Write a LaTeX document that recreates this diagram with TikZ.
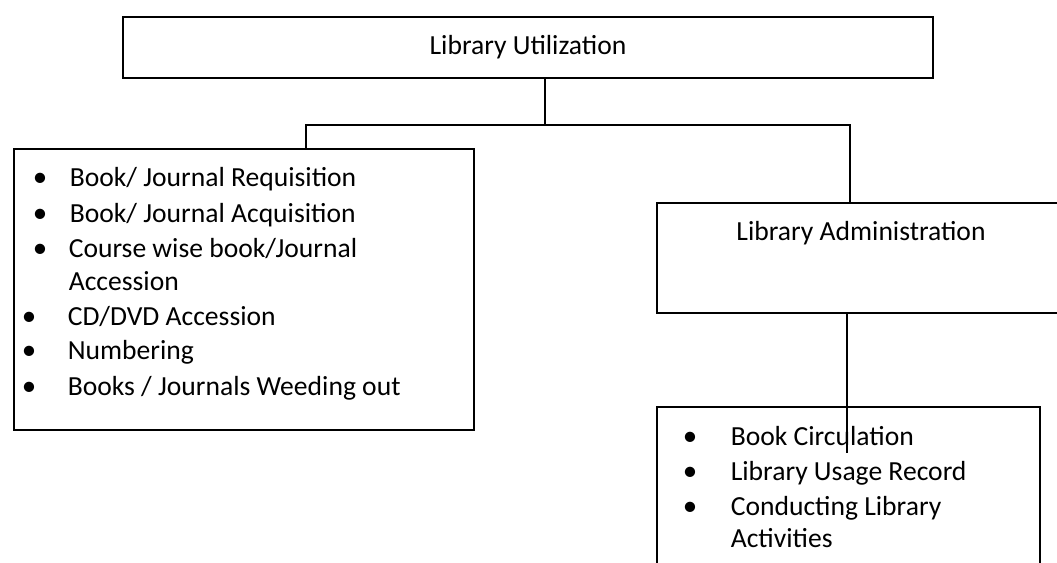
\documentclass[tikz,border=0pt]{standalone}
\usepackage{fontspec}
\setmainfont{Carlito}
\begin{document}
\begin{tikzpicture}[x=1pt,y=-1pt,
  line width=1.6pt,
  boxst/.style={draw=black, rectangle, inner sep=0pt, line width=1.6pt},
  txt/.style={anchor=base west, inner sep=0pt, font=\fontsize{27.6}{35}\selectfont},
  bul/.style={anchor=base, inner sep=0pt, font=\fontsize{29}{35}\selectfont},
  conn/.style={draw=black, line width=1.6pt}]
\useasboundingbox (0,0) rectangle (1057,562);
\fill[white] (0,0) rectangle (1057,562);
% boxes
\node[boxst, minimum width=810pt, minimum height=61pt, font=\fontsize{27.6}{35}\selectfont] (top) at (528,47.5) {Library Utilization};
\node[boxst, minimum width=460pt, minimum height=281pt] (left) at (244,289.5) {};
\node[boxst, minimum width=403pt, minimum height=110pt] (admin) at (858.5,258) {};
\node[txt, anchor=base] (admintxt) at (861,240) {Library Administration};
\node[boxst, minimum width=383pt, minimum height=200pt] (bottom) at (848.5,507) {};
% left list
\node[bul] (b1) at (40,186) {•};
\node[txt] (t1) at (69,186) {Book/ Journal Requisition};
\node[bul] (b2) at (40,222) {•};
\node[txt] (t2) at (69,222) {Book/ Journal Acquisition};
\node[bul] (b3) at (40,257) {•};
\node[txt] (t3) at (68,257) {Course wise book/Journal};
\node[txt] (t3b) at (68,290) {Accession};
\node[bul] (b4) at (29,325) {•};
\node[txt] (t4) at (67,325) {CD/DVD Accession};
\node[bul] (b5) at (29,359) {•};
\node[txt] (t5) at (67,359) {Numbering};
\node[bul] (b6) at (29,395) {•};
\node[txt] (t6) at (67,395) {Books / Journals Weeding out};
% right list
\node[bul] (c1) at (690,445) {•};
\node[txt] (u1) at (730,445) {Book Circulation};
\node[bul] (c2) at (690,480) {•};
\node[txt] (u2) at (730,480) {Library Usage Record};
\node[bul] (c3) at (690,515) {•};
\node[txt] (u3) at (730,515) {Conducting Library};
\node[txt] (u3b) at (730,547) {Activities};
% connectors
\coordinate (jm) at (545,125);
\coordinate (jl) at (306,125);
\coordinate (jr) at (850,125);
\coordinate (e) at (847,453);
\draw[conn] (jm |- top.south) -- (jm);
\draw[conn] (jl |- left.north) -- (jl) -- (jr) -- (jr |- admin.north);
\draw[conn] (e |- admin.south) -- (e);
\end{tikzpicture}
\end{document}
